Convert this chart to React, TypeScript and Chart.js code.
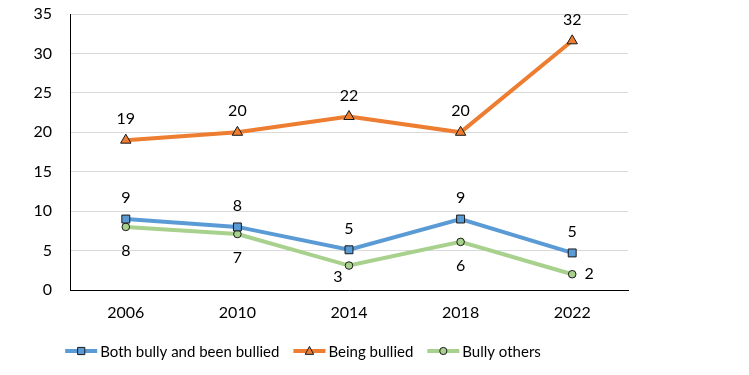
import React, { useEffect, useRef } from 'react';
import { Chart, registerables } from 'chart.js';

Chart.register(...registerables);

const years = ['2006', '2010', '2014', '2018', '2022'];
const bothValues = [9.0, 8.0, 5.1, 9.0, 4.7];
const bothLabels = ['9', '8', '5', '9', '5'];
const beingValues = [19, 20, 22, 20, 31.6];
const beingLabels = ['19', '20', '22', '20', '32'];
const othersValues = [8.0, 7.1, 3.1, 6.1, 2.0];
const othersLabels = ['8', '7', '3', '6', '2'];
const seriesNames = ['Both bully and been bullied', 'Being bullied', 'Bully others'];
const yMax = 35;
const yStep = 5;

const FONT = "Lato, 'Open Sans', 'Noto Sans', sans-serif";
const COLORS = ['#5B9BD5', '#ED7D31', '#A9D18E'];
const MARKERS = ['rect', 'triangle', 'circle'];

// label placement per series per point (styling, not data)
const labelPlacement = [
  ['above', 'above', 'above', 'above', 'above'],
  ['above', 'above', 'above', 'above', 'above'],
  ['below', 'below', 'belowLeft', 'below', 'right'],
];

const dataLabelPlugin = {
  id: 'dataLabels',
  afterDatasetsDraw(chart: any) {
    const ctx = chart.ctx;
    ctx.save();
    ctx.font = `16px ${FONT}`;
    ctx.fillStyle = '#000';
    ctx.textBaseline = 'middle';
    ctx.textAlign = 'center';
    chart.data.datasets.forEach((ds: any, di: number) => {
      const meta = chart.getDatasetMeta(di);
      meta.data.forEach((pt: any, i: number) => {
        const txt = ds.labelTexts[i];
        const p = labelPlacement[di][i];
        let x = pt.x, y = pt.y;
        if (p === 'above') y -= 21;
        else if (p === 'below') y += 24;
        else if (p === 'belowLeft') { y += 11; x -= 11; }
        else if (p === 'right') { x += 17; }
        ctx.fillText(txt, x, y);
      });
    });
    ctx.restore();
  },
};

function drawMarker(ctx: CanvasRenderingContext2D, kind: string, x: number, y: number, r: number, fill: string) {
  ctx.beginPath();
  if (kind === 'rect') {
    ctx.rect(x - r, y - r, 2 * r, 2 * r);
  } else if (kind === 'triangle') {
    ctx.moveTo(x, y - r * 1.1);
    ctx.lineTo(x + r, y + r * 0.8);
    ctx.lineTo(x - r, y + r * 0.8);
    ctx.closePath();
  } else {
    ctx.arc(x, y, r, 0, Math.PI * 2);
  }
  ctx.fillStyle = fill;
  ctx.fill();
  ctx.lineWidth = 1;
  ctx.strokeStyle = '#1a1a1a';
  ctx.stroke();
}

const legendPlugin = {
  id: 'customLegend',
  afterDraw(chart: any) {
    const ctx = chart.ctx;
    ctx.save();
    ctx.font = `15px ${FONT}`;
    const lineW = 32;
    const gap = 3;
    const spacing = 14;
    const widths = seriesNames.map((n) => lineW + gap + ctx.measureText(n).width);
    const total = widths.reduce((a, b) => a + b, 0) + spacing * (seriesNames.length - 1);
    let x = 303 - total / 2;
    const y = 351;
    seriesNames.forEach((name, i) => {
      ctx.beginPath();
      ctx.moveTo(x, y);
      ctx.lineTo(x + lineW, y);
      ctx.lineWidth = 4;
      ctx.strokeStyle = COLORS[i];
      ctx.stroke();
      drawMarker(ctx, MARKERS[i], x + lineW / 2, y, i === 1 ? 4.2 : 3.6, COLORS[i]);
      ctx.fillStyle = '#000';
      ctx.textBaseline = 'middle';
      ctx.textAlign = 'left';
      ctx.fillText(name, x + lineW + gap, y + 1);
      x += widths[i] + spacing;
    });
    ctx.restore();
  },
};

export default function App() {
  const ref = useRef<HTMLCanvasElement>(null);
  useEffect(() => {
    const canvas = ref.current!;
    const series = [
      { name: seriesNames[0], values: bothValues, labels: bothLabels },
      { name: seriesNames[1], values: beingValues, labels: beingLabels },
      { name: seriesNames[2], values: othersValues, labels: othersLabels },
    ];
    const chart = new Chart(canvas, {
      type: 'line',
      data: {
        labels: years,
        datasets: series.map((s, i) => ({
          label: s.name,
          data: s.values,
          labelTexts: s.labels,
          borderColor: COLORS[i],
          backgroundColor: COLORS[i],
          borderWidth: 4,
          pointStyle: MARKERS[i],
          pointRadius: i === 0 ? 5.6 : i === 1 ? 6 : 3.8,
          pointBorderColor: '#1a1a1a',
          pointBorderWidth: 1,
          pointBackgroundColor: COLORS[i],
          tension: 0,
        })) as any,
      },
      options: {
        responsive: false,
        animation: false,
        devicePixelRatio: 1,
        layout: { padding: { left: 0, right: 121, top: 14, bottom: 40 } },
        plugins: {
          legend: { display: false },
          tooltip: { enabled: false },
        },
        scales: {
          x: {
            offset: true,
            grid: { display: false, drawTicks: false },
            border: { display: true, color: '#000', width: 1 },
            ticks: { color: '#000', font: { family: FONT, size: 16 }, padding: 13 },
            afterFit(scale: any) { scale.height = 45; scale.paddingLeft = 0; scale.paddingRight = 0; },
          },
          y: {
            min: 0,
            max: yMax,
            grid: { color: '#d9d9d9', lineWidth: 1, drawTicks: false },
            border: { display: true, color: '#000', width: 1 },
            ticks: { stepSize: yStep, color: '#000', font: { family: FONT, size: 16 }, padding: 18 },
            afterFit(scale: any) { scale.width = 70; scale.paddingTop = 0; scale.paddingBottom = 0; },
          },
        },
      },
      plugins: [dataLabelPlugin, legendPlugin],
    } as any);
    return () => chart.destroy();
  }, []);
  return (
    <div style={{ position: 'absolute', left: 0, top: 0, width: 749, height: 375, background: '#fff' }}>
      <canvas ref={ref} width={749} height={375} style={{ width: 749, height: 375, display: 'block' }} />
    </div>
  );
}
